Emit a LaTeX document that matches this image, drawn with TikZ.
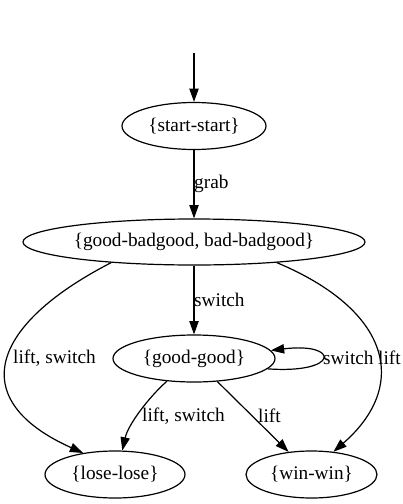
\documentclass[tikz,border=0pt]{standalone}
\usepackage{fontspec}
\setmainfont{Liberation Serif}
\usetikzlibrary{shapes.geometric,arrows.meta}
\begin{document}
\begin{tikzpicture}[x=1pt,y=-1pt,
  every node/.style={font=\fontsize{19.3}{23}\selectfont},
  st/.style={ellipse,draw,line width=1.2pt,inner sep=0pt},
  lbl/.style={anchor=west,inner sep=0pt},
  edge/.style={line width=1.2pt,-{Triangle[length=13.3pt,width=9.3pt]}}]
\useasboundingbox (0,0) rectangle (403,504);
\coordinate (init) at (194,53);
\node[st,minimum width=144pt,minimum height=47pt] (ss) at (194,126) {\{start-start\}};
\node[st,minimum width=342pt,minimum height=46pt] (gb) at (194,242) {\{good-badgood, bad-badgood\}};
\node[st,minimum width=162pt,minimum height=47pt] (gg) at (194,358.5) {\{good-good\}};
\node[st,minimum width=140pt,minimum height=47pt] (ll) at (115,474.5) {\{lose-lose\}};
\node[st,minimum width=131pt,minimum height=47pt] (ww) at (311.5,474.5) {\{win-win\}};
\draw[edge] (init) -- (ss);
\draw[edge] (ss) -- (gb);
\draw[edge] (gb) -- (gg);
\draw[edge] (gb.194) .. controls (-10,325) and (-35,400) .. (ll.146);
\draw[edge] (gb.346) .. controls (390,310) and (410,385) .. (ww.46);
\draw[edge] (gg.220) .. controls (148,398) and (128,425) .. (ll.73);
\draw[edge] (gg) -- (ww);
\draw[edge] (gg.352) .. controls (340,374) and (340,342) .. (gg.6);
\node[lbl] (l1) at (194,184) {grab};
\node[lbl] (l2) at (194,300) {switch};
\node[lbl] (l3) at (13,358) {lift, switch};
\node[lbl] (l4) at (323,358) {switch};
\node[lbl] (l5) at (378,358) {lift};
\node[lbl] (l6) at (142,416) {lift, switch};
\node[lbl] (l7) at (258,416) {lift};
\end{tikzpicture}
\end{document}
